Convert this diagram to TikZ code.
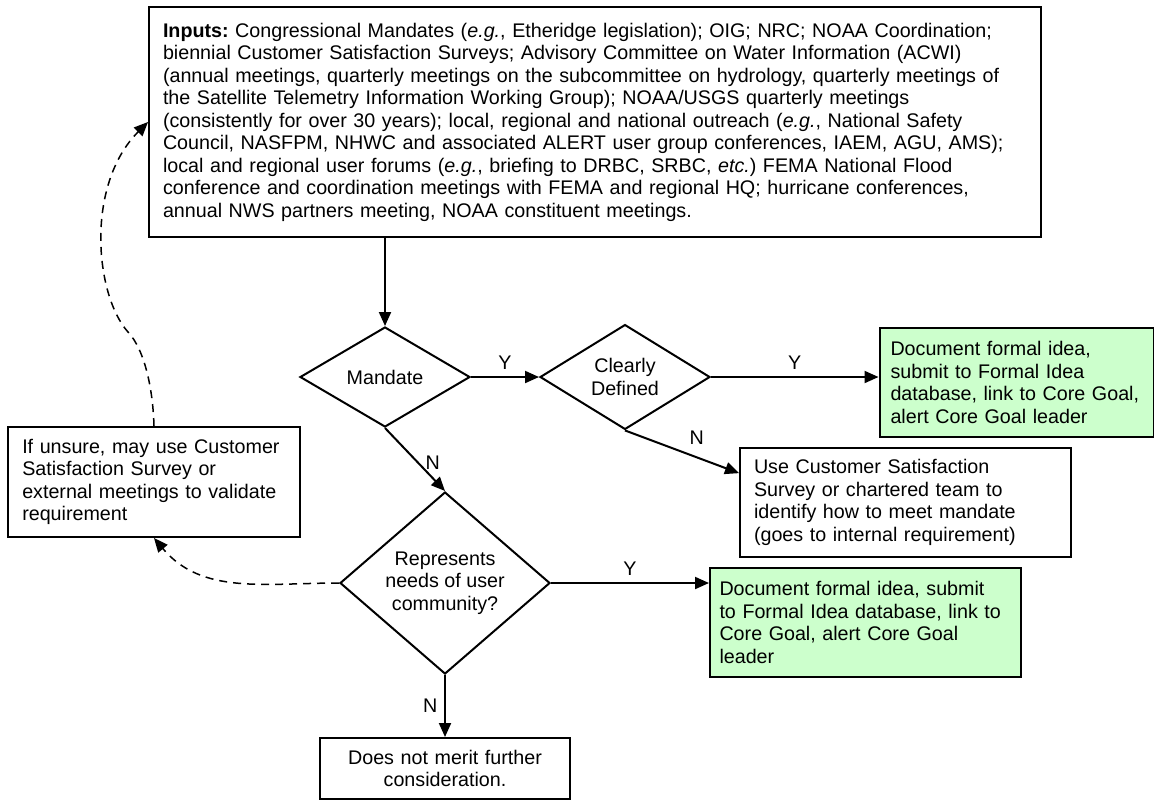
\documentclass[tikz,border=0pt]{standalone}
\usepackage{fontspec}
\setmainfont{Liberation Sans}
\usetikzlibrary{shapes.geometric, positioning, arrows.meta}
\definecolor{ideagreen}{RGB}{204,255,204}

\begin{document}
\frenchspacing
\begin{tikzpicture}[x=0.5pt, y=-0.5pt, on grid, auto, line width=1pt,
  font=\fontsize{9.85pt}{11.25pt}\selectfont,
  >={Triangle[length=7pt,width=6pt]},
  decision/.style={diamond, draw, align=center, inner sep=0pt},
  stepbox/.style={rectangle, draw, align=left, inner xsep=7pt, inner ysep=0pt},
  ideabox/.style={stepbox, fill=ideagreen},
  feedback/.style={->, dash pattern=on 4pt off 3pt, line width=0.75pt}]
  \useasboundingbox (0,0) rectangle (1154,799);

  \node[stepbox, text width=432pt, minimum height=115pt] (inputs) at (595,122)
    {\textbf{Inputs:} Congressional Mandates (\textit{e.g.}, Etheridge legislation); OIG; NRC; NOAA Coordination;\\
     biennial Customer Satisfaction Surveys; Advisory Committee on Water Information (ACWI)\\
     (annual meetings, quarterly meetings on the subcommittee on hydrology, quarterly meetings of\\
     the Satellite Telemetry Information Working Group); NOAA/USGS quarterly meetings\\
     (consistently for over 30 years); local, regional and national outreach (\textit{e.g.}, National Safety\\
     Council, NASFPM, NHWC and associated ALERT user group conferences, IAEM, AGU, AMS);\\
     local and regional user forums (\textit{e.g.}, briefing to DRBC, SRBC, \textit{etc.}) FEMA National Flood\\
     conference and coordination meetings with FEMA and regional HQ; hurricane conferences,\\
     annual NWS partners meeting, NOAA constituent meetings.};
  \node[decision, minimum width=85pt, minimum height=50pt] (mandate) [below left=127.5pt and 105pt of inputs] {Mandate};
  \node[decision, minimum width=85pt, minimum height=50pt] (clear) [right=120pt of mandate] {Clearly\\Defined};
  \node[ideabox, inner xsep=5.5pt, text width=126pt, minimum height=54.5pt] (idea1) [below right=2.75pt and 195.75pt of clear]
    {Document formal idea,\\submit to Formal Idea\\database, link to Core Goal,\\alert Core Goal leader};
  \node[stepbox, text width=151.5pt, minimum height=54.5pt] (use) [below right=62.75pt and 140.25pt of clear]
    {Use Customer Satisfaction\\Survey or chartered team to\\identify how to meet mandate\\(goes to internal requirement)};
  \node[decision, minimum width=105pt, minimum height=85pt] (need) [below right=103pt and 30pt of mandate]
    {Represents\\needs of user\\community?};
  \node[ideabox, inner xsep=4.75pt, text width=146pt, minimum height=54.5pt] (idea2) [below right=19.75pt and 210.25pt of need]
    {Document formal idea, submit\\to Formal Idea database, link to\\Core Goal, alert Core Goal\\leader};
  \node[stepbox, text width=131.75pt, minimum height=55pt] (unsure) [above left=50.5pt and 145.5pt of need]
    {If unsure, may use Customer\\Satisfaction Survey or\\external meetings to validate\\requirement};
  \node[stepbox, align=center, text width=111pt, minimum height=30.5pt] (nomerit) [below=92.75pt of need]
    {Does not merit further\\consideration.};
  \coordinate (kink) at (128,332);

  \path[->]
  (inputs.south -| mandate) edge (mandate.north)
  (mandate) edge node {Y} (clear)
  (clear.east) edge node {Y} (clear.east -| idea1.west)
  (mandate.south) edge node [right, pos=0.55] {N} (need.north)
  (clear.south) edge node {N} (use.170)
  (need.east) edge node {Y} (need.east -| idea2.west)
  (need) edge node [left] {N} (nomerit)
  ;
  \draw[feedback] (need.west) to[out=180, in=-50] (unsure.south);
  \draw[feedback] (unsure.north) .. controls (153,390) and (145,350) .. (kink)
    .. controls (95,295) and (85,185) .. (inputs.west);
\end{tikzpicture}
\end{document}
